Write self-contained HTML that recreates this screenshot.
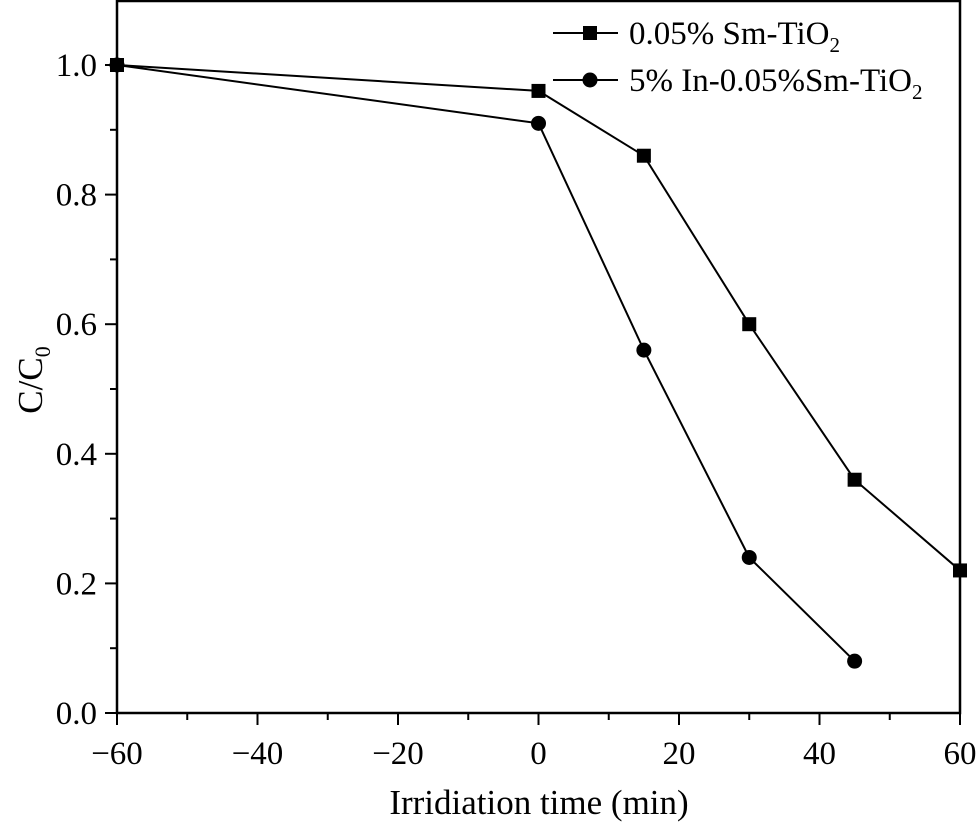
<!DOCTYPE html>
<html><head><meta charset="utf-8"><style>
html,body{margin:0;padding:0;background:#fff;}
svg text{font-family:"Liberation Serif",serif;fill:#000;}
</style></head><body>
<svg id="chart" width="979" height="824" viewBox="0 0 979 824" xmlns="http://www.w3.org/2000/svg">
<g id="axes"></g><g id="series"></g>
<g>
 <line x1="553" y1="33" x2="618" y2="33" stroke="#000" stroke-width="2"/>
 <rect x="583" y="26" width="14" height="14" fill="#000"/>
 <text x="629" y="44" font-size="33">0.05% Sm-TiO<tspan font-size="21" dy="8">2</tspan></text>
 <line x1="553" y1="80" x2="618" y2="80" stroke="#000" stroke-width="2"/>
 <circle cx="590" cy="80" r="7.5" fill="#000"/>
 <text x="629" y="91" font-size="33">5% In-0.05%Sm-TiO<tspan font-size="21" dy="8">2</tspan></text>
</g>
<text x="539" y="814" font-size="35" text-anchor="middle">Irridiation time (min)</text>
<text transform="translate(42,380) rotate(-90)" font-size="35" text-anchor="middle">C/C<tspan font-size="22" dy="8">0</tspan></text>
</svg>
<script>
const xCats=[-60,0,15,30,45,60];
const smVals=[1.0,0.96,0.86,0.6,0.36,0.22];
const inX=[-60,0,15,30,45];
const inVals=[1.0,0.91,0.56,0.24,0.08];
const xTicks=[-60,-40,-20,0,20,40,60];
const yTicks=[0.0,0.2,0.4,0.6,0.8,1.0];
const NS="http://www.w3.org/2000/svg";
const L=117,R=960,T=1,B=713;
const xs=v=>L+(v+60)/120*(R-L);
const ys=v=>B-v/1.0*(B-65);
function mk(tag,attrs,parent){const e=document.createElementNS(NS,tag);for(const k in attrs)e.setAttribute(k,attrs[k]);parent.appendChild(e);return e;}
const ax=document.getElementById('axes');
const frame=mk('rect',{x:L,y:T,width:R-L,height:B-T,fill:'none',stroke:'#000','stroke-width':2.5},ax);


xTicks.forEach((t,i)=>{
 const x=xs(t);
 mk('line',{x1:x,y1:B,x2:x,y2:B+12,stroke:'#000','stroke-width':2},ax);
 if(i<xTicks.length-1){const m=xs(t+10);mk('line',{x1:m,y1:B,x2:m,y2:B+7,stroke:'#000','stroke-width':2},ax);}
 const tx=mk('text',{x:x,y:B+51,'font-size':33,'text-anchor':'middle'},ax);
 tx.textContent=(t<0?'\u2212'+(-t):t);
 
 
});
yTicks.forEach((t,i)=>{
 const y=ys(t);
 mk('line',{x1:L-12,y1:y,x2:L,y2:y,stroke:'#000','stroke-width':2},ax);
 const m=ys(t+0.1);if(i<yTicks.length-1)mk('line',{x1:L-7,y1:m,x2:L,y2:m,stroke:'#000','stroke-width':2},ax);
 const tx=mk('text',{x:L-20,y:y+11,'font-size':33,'text-anchor':'end'},ax);
 tx.textContent=t.toFixed(1);
 
 
});
const sg=document.getElementById('series');
const l1=mk('polyline',{points:xCats.map((c,i)=>xs(c)+','+ys(smVals[i])).join(' '),fill:'none',stroke:'#000','stroke-width':2},sg);


const l2=mk('polyline',{points:inX.map((c,i)=>xs(c)+','+ys(inVals[i])).join(' '),fill:'none',stroke:'#000','stroke-width':2},sg);


xCats.forEach((c,i)=>{
 const r=mk('rect',{x:xs(c)-7,y:ys(smVals[i])-7,width:14,height:14,fill:'#000'},sg);
 
 
});
inX.forEach((c,i)=>{
 const p=mk('circle',{cx:xs(c),cy:ys(inVals[i]),r:7.5,fill:'#000'},sg);
 
 
});
</script>
</body></html>
